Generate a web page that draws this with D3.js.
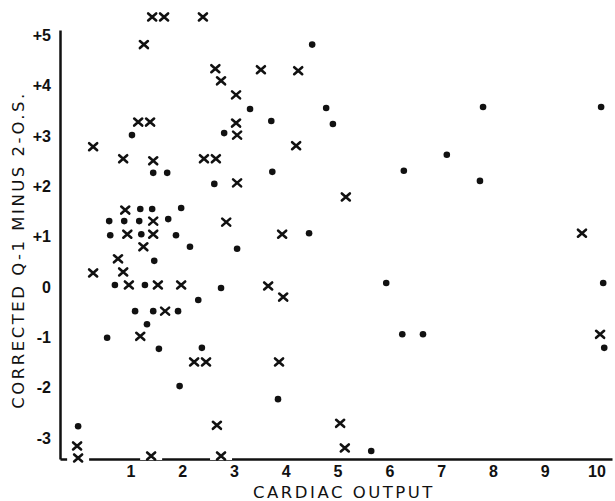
<!DOCTYPE html>
<html>
<head>
<meta charset="utf-8">
<script src="https://cdn.jsdelivr.net/npm/d3@7"></script>
<style>
  body { margin: 0; background: #fff; }
  svg { display: block; font-family: 'DejaVu Sans', sans-serif; }
  .axis .domain { stroke: #111; stroke-width: 2.5; }
  .axis-title { font-size: 16.5px; letter-spacing: 2.5px; fill: #111; }
</style>
</head>
<body>
<div id="chart"></div>
<script>
const WIDTH = 615
const HEIGHT = 501
const INK = '#111'

// filled dots: cardiac output vs corrected Q-1 minus 2-O.S.
const dotX = [1.03, 1.44, 1.71, 1.19, 1.42, 1.98, 0.59, 0.88, 1.17, 1.73, 0.61, 1.21, 1.88, 2.15, 1.46,
  0.70, 1.28, 2.31, 1.09, 1.44, 1.92, 1.32, 0.55, 1.55, 2.38, 1.95, -0.01, 4.51, 3.31, 3.72, 4.78, 4.91,
  2.81, 3.74, 2.62, 4.45, 3.06, 2.75, 5.94, 6.25, 6.65, 3.85, 5.65, 6.28, 7.11, 7.75, 7.81, 10.09, 10.13, 10.15]
const dotY = [3.02, 2.27, 2.27, 1.55, 1.55, 1.57, 1.31, 1.31, 1.31, 1.35, 1.03, 1.05, 1.03, 0.80, 0.52,
  0.04, 0.04, -0.26, -0.48, -0.48, -0.48, -0.74, -1.01, -1.23, -1.21, -1.97, -2.77, 4.82, 3.54, 3.30, 3.56, 3.24,
  3.06, 2.29, 2.05, 1.07, 0.76, -0.02, 0.08, -0.94, -0.94, -2.23, -3.26, 2.31, 2.63, 2.11, 3.58, 3.58, 0.08, -1.21]

// crosses
const crossX = [1.42, 1.65, 2.40, 1.26, 1.15, 1.38, 0.28, 0.86, 1.44, 2.42, 2.65, 0.90, 1.44, 0.94, 1.44,
  1.25, 0.76, 0.28, 0.86, 0.97, 1.53, 1.98, 1.67, 1.19, 2.23, 2.46, -0.03, -0.01, 1.40, 2.64, 3.52, 4.24,
  2.75, 3.04, 3.04, 3.06, 4.20, 3.06, 5.16, 2.85, 3.93, 3.66, 3.95, 3.87, 2.67, 5.05, 5.14, 2.75, 9.72, 10.07]
const crossY = [5.37, 5.37, 5.37, 4.82, 3.28, 3.28, 2.79, 2.55, 2.51, 2.55, 2.55, 1.53, 1.31, 1.05, 1.05,
  0.80, 0.56, 0.28, 0.30, 0.04, 0.04, 0.04, -0.48, -0.98, -1.49, -1.49, -3.16, -3.40, -3.36, 4.34, 4.32, 4.30,
  4.10, 3.82, 3.26, 3.02, 2.81, 2.07, 1.79, 1.29, 1.05, 0.02, -0.20, -1.49, -2.75, -2.71, -3.20, -3.36, 1.07, -0.94]

const xTicks = [1, 2, 3, 4, 5, 6, 7, 8, 9, 10]
const yTicks = [5, 4, 3, 2, 1, 0, -1, -2, -3]
const yTickLabels = ['+5', '+4', '+3', '+2', '+1', '0', '-1', '-2', '-3']
const xTitle = 'CARDIAC OUTPUT'
const yTitle = 'CORRECTED Q-1 MINUS 2-O.S.'

const dots = dotX.map((x, i) => ({ x, y: dotY[i] }))
const crosses = crossX.map((x, i) => ({ x, y: crossY[i] }))

const svg = d3.select('#chart')
  .append('svg')
  .attr('width', WIDTH)
  .attr('height', HEIGHT)

const x = d3.scaleLinear().domain([-0.36, 10.3]).range([60, 612])
const y = d3.scaleLinear().domain([-3.42, 5.11]).range([459, 30])

function styleTicks(g) {
  g.selectAll('.tick text')
    .style('font-size', '16px')
    .style('font-weight', 'bold')
    .attr('fill', INK)
}

// axes: no tick marks, just labels
svg.append('g')
  .attr('class', 'axis')
  .attr('transform', `translate(0,${y.range()[0]})`)
  .call(d3.axisBottom(x).tickValues(xTicks).tickSize(0).tickPadding(7).tickFormat(d3.format('d')))
  .call(styleTicks)

svg.append('g')
  .attr('class', 'axis')
  .attr('transform', `translate(${x.range()[0]},0)`)
  .call(d3.axisLeft(y).tickValues(yTicks).tickSize(0).tickPadding(9)
    .tickFormat((d, i) => yTickLabels[i]))
  .call(styleTicks)

svg.append('text')
  .attr('class', 'axis-title')
  .attr('x', 344)
  .attr('y', 498)
  .attr('text-anchor', 'middle')
  .text(xTitle)

svg.append('text')
  .attr('class', 'axis-title')
  .attr('transform', 'translate(24,250) rotate(-90)')
  .attr('text-anchor', 'middle')
  .text(yTitle)

// crosses sitting on the baseline break the axis line
svg.append('g')
  .selectAll('rect')
  .data(crosses.filter((d) => d.y < -3.3))
  .join('rect')
  .attr('x', (d) => x(d.x) - 11)
  .attr('y', (d) => y(d.y) - 4)
  .attr('width', 22)
  .attr('height', 8)
  .attr('fill', '#fff')

svg.append('g')
  .selectAll('circle')
  .data(dots)
  .join('circle')
  .attr('cx', (d) => x(d.x))
  .attr('cy', (d) => y(d.y))
  .attr('r', 3.3)
  .attr('fill', INK)

svg.append('g')
  .selectAll('path')
  .data(crosses)
  .join('path')
  .attr('transform', (d) => `translate(${x(d.x)},${y(d.y)})`)
  .attr('d', 'M-4,-3.5L4,3.5M-4,3.5L4,-3.5')
  .attr('stroke', INK)
  .attr('stroke-width', 2.6)
  .attr('stroke-linecap', 'round')
  .attr('fill', 'none')
</script>
</body>
</html>
